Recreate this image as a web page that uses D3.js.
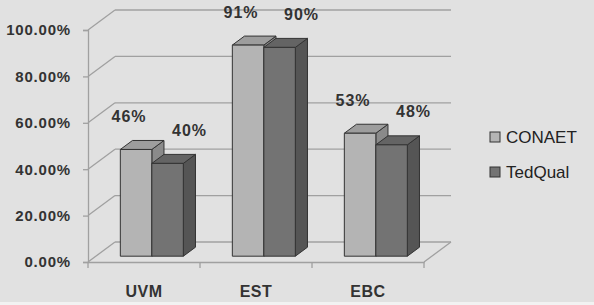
<!DOCTYPE html>
<html>
<head>
<meta charset="utf-8">
<script src="https://cdn.jsdelivr.net/npm/d3@7"></script>
<style>
  html, body { margin: 0; padding: 0; background: #e1e1e1; }
  svg { display: block; }
</style>
</head>
<body>
<div id="chart"></div>
<script>
// 3D clustered column chart: CONAET vs TedQual by institution

const categories = ["UVM", "EST", "EBC"];
const seriesNames = ["CONAET", "TedQual"];
const conaetValues = [46, 91, 53];
const tedqualValues = [40, 90, 48];
const yTicks = [0, 20, 40, 60, 80, 100];

const width = 594, height = 305;

// front plane of the plot
const plot = { left: 88, right: 424, top: 30, bottom: 262 };
// depth of the 3D box (offset of the back wall)
const depth = { dx: 27, dy: -20 };
// bars sit between these depth fractions
const z0 = 0.29, z1 = 0.74;

const colors = {
  CONAET:  { front: "#b4b4b4", top: "#9d9d9d", side: "#8a8a8a" },
  TedQual: { front: "#737373", top: "#646464", side: "#555555" }
};
// label offsets relative to the bar front top centre
const labelOffset = { CONAET: { dx: -7, dy: -33 }, TedQual: { dx: 22, dy: -33 } };

const rows = categories.map((c, i) => ({
  cat: c,
  values: [
    { key: "CONAET", value: conaetValues[i] },
    { key: "TedQual", value: tedqualValues[i] }
  ]
}));

const svg = d3.select("#chart").append("svg")
  .attr("width", width)
  .attr("height", height);

svg.append("rect").attr("width", width).attr("height", height).attr("fill", "#e1e1e1");
svg.append("rect").attr("y", 302).attr("width", width).attr("height", 3).attr("fill", "#f2f2f2");

const y = d3.scaleLinear().domain([0, 100]).range([plot.bottom, plot.top]);
const x0 = d3.scaleBand().domain(categories).range([plot.left, plot.right]);
const groupW = x0.bandwidth() * 0.5625;
const x1 = d3.scaleBand().domain(seriesNames)
  .range([(x0.bandwidth() - groupW) / 2, (x0.bandwidth() + groupW) / 2]);

const gridColor = "#a0a0a0";
const grid = svg.append("g")
  .attr("stroke", gridColor)
  .attr("stroke-width", 1.3)
  .attr("fill", "none");

// back wall lines
grid.selectAll(".back").data(yTicks).join("line")
  .attr("x1", plot.left + depth.dx).attr("x2", plot.right + depth.dx)
  .attr("y1", d => y(d) + depth.dy).attr("y2", d => y(d) + depth.dy);

// left wall diagonals
grid.selectAll(".side").data(yTicks).join("line")
  .attr("x1", plot.left).attr("x2", plot.left + depth.dx)
  .attr("y1", d => y(d)).attr("y2", d => y(d) + depth.dy);

// floor right edge
grid.append("line")
  .attr("x1", plot.right).attr("y1", y(0))
  .attr("x2", plot.right + depth.dx).attr("y2", y(0) + depth.dy);

// bars
const bdx = depth.dx * (z1 - z0), bdy = depth.dy * (z1 - z0);
const ox = depth.dx * z0, oy = depth.dy * z0;

const barG = svg.append("g")
  .attr("stroke", "#333")
  .attr("stroke-width", 1)
  .attr("stroke-linejoin", "round");

const bars = [];
rows.forEach(r => r.values.forEach(v => {
  const xl = x0(r.cat) + x1(v.key) + ox;
  const xr = xl + x1.bandwidth();
  const yb = y(0) + oy;
  const yt = y(v.value) + oy;
  bars.push({ ...v, cat: r.cat, xl, xr, yb, yt });
}));

bars.forEach(b => {
  const c = colors[b.key];
  barG.append("polygon")
    .attr("points", [[b.xr, b.yb], [b.xr + bdx, b.yb + bdy], [b.xr + bdx, b.yt + bdy], [b.xr, b.yt]].join(" "))
    .attr("fill", c.side);
  barG.append("polygon")
    .attr("points", [[b.xl, b.yt], [b.xl + bdx, b.yt + bdy], [b.xr + bdx, b.yt + bdy], [b.xr, b.yt]].join(" "))
    .attr("fill", c.top);
  barG.append("rect")
    .attr("x", b.xl).attr("y", b.yt)
    .attr("width", b.xr - b.xl).attr("height", b.yb - b.yt)
    .attr("fill", c.front);
});

// data labels
svg.append("g").selectAll("text").data(bars).join("text")
  .attr("x", d => (d.xl + d.xr) / 2 + labelOffset[d.key].dx)
  .attr("y", d => d.yt + labelOffset[d.key].dy)
  .attr("text-anchor", "middle")
  .attr("dominant-baseline", "central")
  .style("font-family", "Liberation Sans, Arial, sans-serif")
  .style("font-weight", "bold")
  .style("font-size", "16px")
  .style("letter-spacing", "1px")
  .style("fill", "#333")
  .text(d => d.value + "%");

// y axis
const yAxis = svg.append("g")
  .attr("transform", `translate(${plot.left},0)`)
  .call(d3.axisLeft(y).tickValues(yTicks).tickSize(5).tickPadding(12)
    .tickFormat(d => d.toFixed(2) + "%"));
yAxis.selectAll("line, path").attr("stroke", gridColor).attr("stroke-width", 1.3);
yAxis.selectAll("text")
  .style("font-family", "Liberation Sans, Arial, sans-serif")
  .style("font-weight", "bold")
  .style("font-size", "15px")
  .style("letter-spacing", "0.8px")
  .style("fill", "#333");

// x axis
const xAxis = svg.append("g")
  .attr("transform", `translate(0,${plot.bottom})`)
  .call(d3.axisBottom(x0).tickSize(0).tickPadding(24));
xAxis.select(".domain").attr("stroke", gridColor).attr("stroke-width", 1.3);
xAxis.selectAll("text")
  .style("font-family", "Liberation Sans, Arial, sans-serif")
  .style("font-weight", "bold")
  .style("font-size", "16px")
  .style("letter-spacing", "0.5px")
  .style("fill", "#333");
// category boundary ticks
xAxis.selectAll(".bound").data(d3.range(categories.length + 1)).join("line")
  .attr("x1", i => plot.left + i * x0.step()).attr("x2", i => plot.left + i * x0.step())
  .attr("y1", 0).attr("y2", 6)
  .attr("stroke", gridColor).attr("stroke-width", 1.3);

// legend
const legend = svg.append("g").attr("transform", "translate(490,132)");
const li = legend.selectAll("g").data(seriesNames).join("g")
  .attr("transform", (d, i) => `translate(0,${i * 35})`);
li.append("rect")
  .attr("width", 10).attr("height", 10)
  .attr("fill", d => colors[d].front)
  .attr("stroke", "#333").attr("stroke-width", 1);
li.append("text")
  .attr("x", 16).attr("y", 5)
  .attr("dominant-baseline", "central")
  .style("font-family", "Liberation Sans, Arial, sans-serif")
  .style("font-size", "17px")
  .style("fill", "#222")
  .text(d => d);
</script>
</body>
</html>
